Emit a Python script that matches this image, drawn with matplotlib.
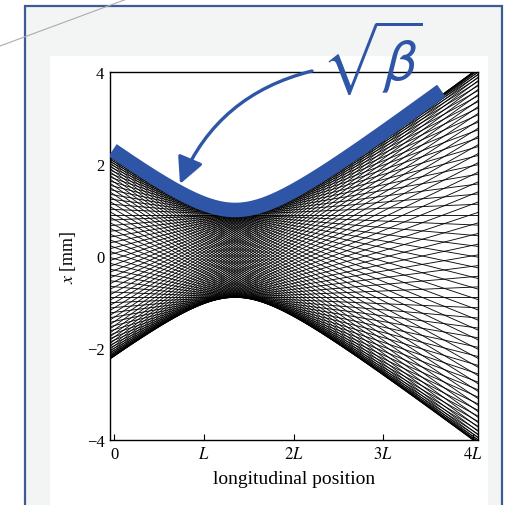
import numpy as np
import matplotlib
matplotlib.use("Agg")
import matplotlib.pyplot as plt
from matplotlib.patches import Rectangle, FancyArrowPatch

# ---- data ----
waist_position = 1.35      # longitudinal position of the beam waist (units of L)
waist_size = 0.9           # envelope half-width at the waist [mm]
divergence = 1.47          # envelope growth far from waist [mm per L]
n_particles = 110          # number of particle trajectories drawn
band_offset = 0.1          # sqrt(beta) band drawn just above the envelope [mm]
band_range = [-0.02, 3.65] # extent of the sqrt(beta) band (units of L)
x_ticks = [0, 1, 2, 3, 4]
x_tick_labels = ["0", "$L$", "$2L$", "$3L$", "$4L$"]
y_ticks = [-4, -2, 0, 2, 4]
y_tick_labels = ["\u22124", "\u22122", "0", "2", "4"]

W, H = 510, 506
fig = plt.figure(figsize=(W / 100, H / 100), dpi=100)
fig.patch.set_facecolor("white")

# background (slide frame)
bg = fig.add_axes([0, 0, 1, 1], zorder=0)
bg.set_xlim(0, W); bg.set_ylim(H, 0); bg.axis("off")
bg.add_patch(Rectangle((25, 7), 477, 520, facecolor="#f3f4f4", edgecolor="#3d5c94", lw=1.6))
bg.add_patch(Rectangle((50, 57), 438, 470, facecolor="white", edgecolor="none"))
bg.plot([0, 127], [47, 0], color="#a9acb0", lw=0.8)

# main axes
ax = fig.add_axes([110 / W, 1 - 441 / H, (478 - 110) / W, (441 - 73) / H], zorder=1)
ax.set_facecolor("white")
s = np.linspace(-0.1, 4.1, 400)
phases = np.linspace(0, 2 * np.pi, n_particles, endpoint=False)
for ph in phases:
    x = waist_size * np.cos(ph) + divergence * (s - waist_position) * np.sin(ph)
    ax.plot(s, x, color="black", lw=0.65, alpha=0.95)

env = np.sqrt(waist_size**2 + (divergence * (s - waist_position))**2)
m = (s >= band_range[0]) & (s <= band_range[1])
ax.plot(s[m], env[m] + band_offset, color="#2f55a6", lw=10.5, solid_capstyle="butt", zorder=5)

ax.set_xlim(-0.045, 4.056)
ax.set_ylim(-4, 4)
ax.set_xticks(x_ticks)
ax.set_xticklabels(x_tick_labels)
ax.set_yticks(y_ticks)
ax.set_yticklabels(y_tick_labels)
ax.tick_params(axis="x", direction="in", length=4, width=0.8, top=False, labelsize=12, pad=4)
ax.tick_params(axis="y", length=0, right=False, labelsize=12, pad=4)
for lab in ax.get_xticklabels() + ax.get_yticklabels():
    lab.set_family("Liberation Serif")
    lab.set_math_fontfamily("stix")
for sp in ax.spines.values():
    sp.set_linewidth(1.0)
ax.set_xlabel("longitudinal position", family="Liberation Serif", fontsize=14, labelpad=6)
ax.set_ylabel("$x$ [mm]", family="Liberation Serif", fontsize=13, labelpad=6, math_fontfamily="stix")

# overlay: arrow and sqrt(beta)
ov = fig.add_axes([0, 0, 1, 1], zorder=10)
ov.set_xlim(0, W); ov.set_ylim(H, 0); ov.axis("off")
ov.patch.set_alpha(0)
arr = FancyArrowPatch((312, 72), (180, 185), connectionstyle="arc3,rad=0.25",
                      arrowstyle="-|>,head_length=0.8,head_width=0.4", mutation_scale=20,
                      color="#2f55a6", lw=2.4, shrinkA=0, shrinkB=0)
ov.add_patch(arr)
ov.text(372, 58, r"$\sqrt{\beta}$", fontsize=42, color="#2f55a6", ha="center", va="center",
        math_fontfamily="stixsans")

fig.savefig("out.png", dpi=100)
